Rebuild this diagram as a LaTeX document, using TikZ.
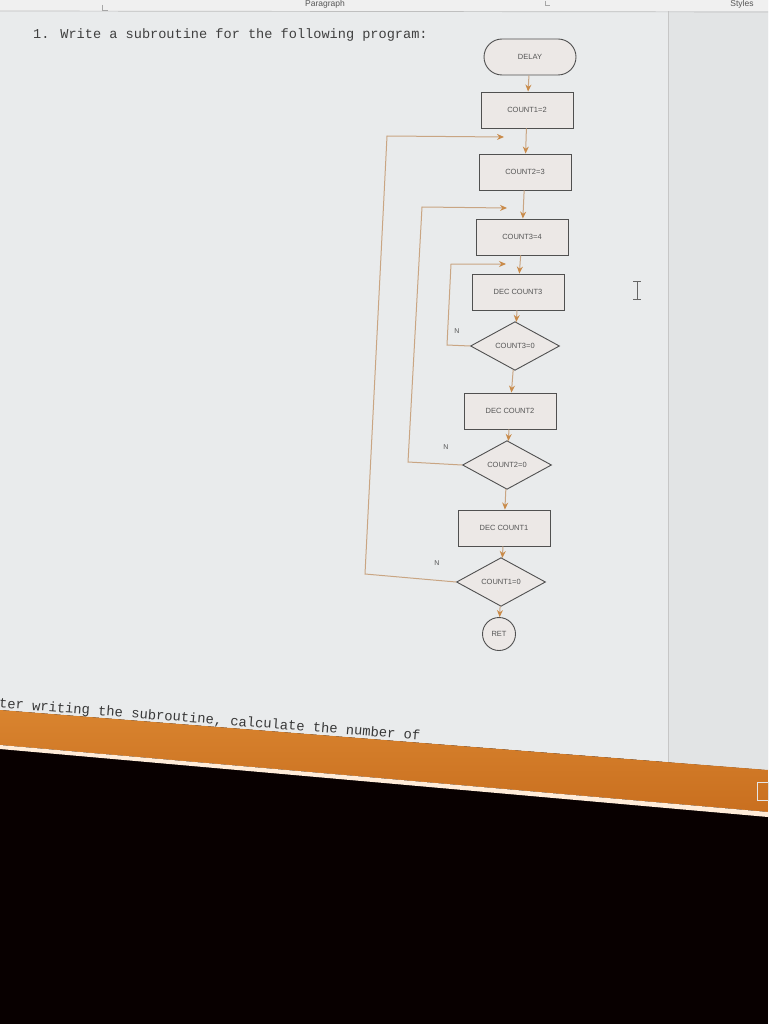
\documentclass[tikz,border=0pt]{standalone}
\usepackage{fontspec}
\setmainfont{Liberation Sans}
\newfontfamily\monof{Liberation Mono}
\usetikzlibrary{shapes.geometric,arrows.meta,calc}
\definecolor{pagebg}{HTML}{E9EBEC}
\definecolor{panelbg}{HTML}{E2E4E5}
\definecolor{boxfill}{HTML}{ECE8E6}
\definecolor{boxline}{HTML}{505050}
\definecolor{linktan}{HTML}{C9A583}
\definecolor{tiporange}{HTML}{C98B4A}
\definecolor{txtgray}{HTML}{555555}
\definecolor{barorange}{HTML}{D9842F}
\definecolor{bardark}{HTML}{C96F1F}
\tikzset{
  shapebase/.style={draw=boxline, line width=0.9pt, fill=boxfill, text=txtgray,
    font=\fontsize{7.5}{9}\selectfont, inner sep=1pt},
  boxnode/.style={shapebase, rectangle, minimum width=92pt, minimum height=36pt},
  termnode/.style={shapebase, rectangle, rounded corners=18pt, minimum width=92pt, minimum height=36pt},
  decnode/.style={shapebase, diamond, minimum width=89pt, minimum height=35pt},
  retnode/.style={shapebase, circle, minimum size=33pt},
  link/.style={draw=linktan, line width=1pt, -{Stealth[length=7pt,width=6pt,color=tiporange]}},
  nlabel/.style={text=txtgray, font=\fontsize{7}{8}\selectfont, inner sep=0pt},
  barlabel/.style={text=txtgray, font=\fontsize{8.5}{9}\selectfont, inner sep=0pt, anchor=north},
}
\begin{document}
\begin{tikzpicture}[x=1pt,y=-1pt]
\useasboundingbox (0,0) rectangle (768,1024);
% screen background
\fill[black!97!red] (0,0) rectangle (768,1024);
\fill[pagebg] (0,0) -- (768,0) -- (768,770) -- (0,710) -- cycle;
\fill[panelbg] (668,11) -- (768,11) -- (768,770) -- (668,762) -- cycle;
\draw[gray!45, line width=0.7pt] (668,11) -- (668,762);
\fill[gray!12] (0,0) rectangle (768,11);
\draw[gray!50, line width=0.7pt] (0,11) -- (768,12);
% orange status bar
\shade[top color=barorange, bottom color=bardark] (0,710) -- (768,770) -- (768,812) -- (0,745) -- cycle;
\fill[white!85!orange] (0,745) -- (768,812) -- (768,817) -- (0,749) -- cycle;
\draw[white!80!gray, line width=0.8pt] (757,782) rectangle (768,800);
% toolbar remnants
\node[barlabel] (para) at (325,0.5) {Paragraph};
\node[barlabel] (styl) at (742,0.5) {Styles};
\draw[gray!70, line width=0.8pt] (102,5) -- (102,10) -- (108,10);
\draw[gray!70, line width=0.8pt] (545,1) -- (545,5) -- (550,5);
% document texts
\node[anchor=west, text=black!75, font=\monof\fontsize{13.6}{15}\selectfont, inner sep=0pt] (q1) at (33,35) {1. Write a subroutine for the following program:};
\node[anchor=west, rotate=-4.4, text=black!78, font=\monof\fontsize{13.8}{15}\selectfont, inner sep=0pt] (q2) at (-1,704) {ter writing the subroutine, calculate the number of};
% I-beam cursor
\draw[black!60, line width=0.8pt] (637,281) -- (637,299) (633,281) -- (641,281) (633,299) -- (641,299);
% flowchart nodes
\node[termnode] (delay) at (530,57) {DELAY};
\node[boxnode] (c12) at (527,110) {COUNT1=2};
\node[boxnode] (c23) at (525,172) {COUNT2=3};
\node[boxnode] (c34) at (522,237) {COUNT3=4};
\node[boxnode] (d3) at (518,292) {DEC COUNT3};
\node[decnode] (z3) at (515,346) {COUNT3=0};
\node[boxnode] (d2) at (510,411) {DEC COUNT2};
\node[decnode] (z2) at (507,465) {COUNT2=0};
\node[boxnode] (d1) at (504,528) {DEC COUNT1};
\node[decnode] (z1) at (501,582) {COUNT1=0};
\node[retnode] (ret) at (499,634) {RET};
% main flow
\draw[link] (delay) -- (c12);
\draw[link] (c12) -- (c23);
\draw[link] (c23) -- (c34);
\draw[link] (c34) -- (d3);
\draw[link] (d3) -- (z3);
\draw[link] (z3) -- (d2);
\draw[link] (d2) -- (z2);
\draw[link] (z2) -- (d1);
\draw[link] (d1) -- (z1);
\draw[link] (z1) -- (ret);
% loop corners and ends
\coordinate (a3) at (447,345);
\coordinate (b3) at (451,264);
\coordinate (j3) at (506,264);
\coordinate (a2) at (408,462);
\coordinate (b2) at (422,207);
\coordinate (j2) at (507,208);
\coordinate (a1) at (365,574);
\coordinate (b1) at (387,136);
\coordinate (j1) at (504,137);
\draw[link] (z3.west) -- (a3) -- (b3) -- (j3);
\draw[link] (z2.west) -- (a2) -- (b2) -- (j2);
\draw[link] (z1.west) -- (a1) -- (b1) -- (j1);
\node[nlabel] (n3) at (457,331) {N};
\node[nlabel] (n2) at (446,447) {N};
\node[nlabel] (n1) at (437,563) {N};
\end{tikzpicture}
\end{document}
